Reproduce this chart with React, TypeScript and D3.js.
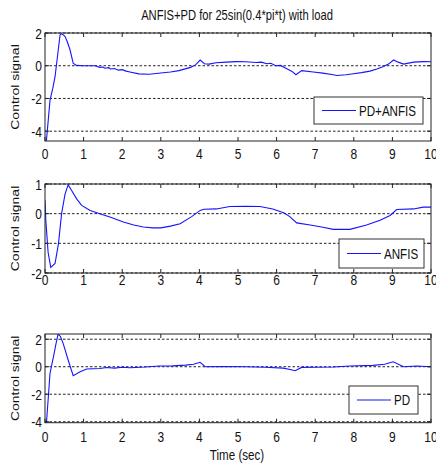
import React from "react";
import * as d3 from "d3";

// ---- data ----
const xTicks = [0, 1, 2, 3, 4, 5, 6, 7, 8, 9, 10];

const tPDANFIS = [0, 0.04, 0.13, 0.2, 0.26, 0.33, 0.39, 0.42, 0.47, 0.52, 0.58, 0.65, 0.73, 0.81, 1.0, 1.3, 1.42, 1.5, 1.55, 1.65, 1.7, 1.8, 1.9, 2.0, 2.1, 2.2, 2.43, 2.7, 3.0, 3.25, 3.47, 3.77, 3.9, 4.02, 4.13, 4.25, 4.43, 4.7, 4.95, 5.2, 5.47, 5.6, 5.75, 5.85, 5.98, 6.1, 6.24, 6.4, 6.5, 6.65, 6.95, 7.2, 7.47, 7.56, 7.8, 7.99, 8.2, 8.42, 8.6, 8.77, 8.9, 9.03, 9.15, 9.29, 9.55, 9.8, 10];
const vPDANFIS = [-4.8, -4.5, -2.1, -1.4, -0.67, 0.7, 1.88, 1.95, 1.9, 1.78, 1.45, 0.96, 0.15, 0.02, 0.0, 0.0, -0.1, -0.08, -0.15, -0.12, -0.2, -0.17, -0.27, -0.24, -0.33, -0.38, -0.5, -0.52, -0.44, -0.38, -0.3, -0.1, 0.05, 0.35, 0.12, 0.1, 0.18, 0.22, 0.25, 0.24, 0.2, 0.22, 0.12, 0.15, 0.0, 0.02, -0.15, -0.35, -0.55, -0.3, -0.38, -0.45, -0.55, -0.6, -0.55, -0.49, -0.42, -0.33, -0.2, -0.05, 0.1, 0.35, 0.22, 0.1, 0.22, 0.25, 0.24];

const tANFIS = [0, 0.02, 0.08, 0.15, 0.2, 0.26, 0.35, 0.43, 0.52, 0.6, 0.69, 0.82, 0.95, 1.17, 1.42, 1.7, 2.03, 2.3, 2.55, 2.8, 3.0, 3.25, 3.5, 3.8, 4.02, 4.12, 4.44, 4.79, 5.2, 5.57, 5.9, 6.2, 6.34, 6.52, 6.87, 7.2, 7.47, 7.9, 8.33, 8.68, 8.94, 9.11, 9.55, 9.8, 10];
const vANFIS = [0.45, -0.2, -1.3, -1.81, -1.75, -1.68, -1.0, 0.0, 0.67, 0.97, 0.78, 0.5, 0.28, 0.11, 0.0, -0.12, -0.28, -0.38, -0.45, -0.48, -0.48, -0.42, -0.34, -0.1, 0.11, 0.15, 0.16, 0.24, 0.25, 0.24, 0.16, 0.02, -0.1, -0.31, -0.38, -0.46, -0.53, -0.53, -0.38, -0.22, -0.06, 0.14, 0.16, 0.22, 0.22];

const tPD = [0, 0.04, 0.13, 0.22, 0.28, 0.34, 0.4, 0.47, 0.6, 0.73, 0.91, 1.08, 1.42, 1.6, 1.8, 2.0, 2.2, 2.6, 2.96, 3.3, 3.64, 3.85, 4.02, 4.15, 4.6, 5.2, 5.7, 6.17, 6.35, 6.48, 6.65, 7.0, 7.47, 7.9, 8.5, 8.8, 9.02, 9.29, 9.63, 10];
const vPD = [-4.6, -4.0, -0.48, 0.73, 1.6, 2.38, 2.2, 1.7, 0.49, -0.65, -0.36, -0.17, -0.13, -0.06, -0.1, -0.04, -0.07, -0.02, 0.05, 0.06, 0.12, 0.18, 0.32, 0.0, 0.02, 0.0, -0.04, -0.1, -0.2, -0.29, -0.05, -0.04, -0.02, 0.05, 0.1, 0.18, 0.36, 0.0, 0.05, 0.0];

const titleText = "ANFIS+PD for 25sin(0.4*pi*t) with load";
const yLabelText = "Control signal";
const xLabelText = "Time (sec)";

const FONT = "'Liberation Sans', Arial, sans-serif";
const SX = 0.8;
const BLUE = "#1414ff";

function T({ x, y, anchor = "start", size = 14, rotate = 0, children }: any) {
  return (
    <text
      transform={`translate(${x},${y}) scale(${SX},1)${rotate ? ` rotate(${rotate})` : ""}`}
      textAnchor={anchor}
      fontFamily={FONT}
      fontSize={size}
      fill="#111"
    >
      {children}
    </text>
  );
}

function Panel({ id, top, bottom, domain, yTicks, t, v, legend, labelBase }: any) {
  const left = 45, right = 431;
  const x = d3.scaleLinear().domain([0, 10]).range([left, right]);
  const y = d3.scaleLinear().domain(domain).range([bottom, top]);
  const line = d3.line<number>().x((_, i) => x(t[i])).y((d) => y(d));
  const tl = 4;
  return (
    <g>
      <defs>
        <clipPath id={id}>
          <rect x={left} y={top} width={right - left} height={bottom - top} />
        </clipPath>
      </defs>
      <rect x={left} y={top} width={right - left} height={bottom - top} fill="#fff" />
      {yTicks.map((tk: number) => (
        <line key={"g" + tk} x1={left} x2={right} y1={y(tk)} y2={y(tk)} stroke="#222" strokeWidth={1} strokeDasharray="2.5,2" />
      ))}
      <path d={line(v) || ""} fill="none" stroke={BLUE} strokeWidth={1.1} clipPath={`url(#${id})`} />
      {xTicks.map((tk) => (
        <g key={"x" + tk}>
          <line x1={x(tk)} x2={x(tk)} y1={bottom} y2={bottom - tl} stroke="#222" />
          <line x1={x(tk)} x2={x(tk)} y1={top} y2={top + tl} stroke="#222" />
          <T x={x(tk)} y={labelBase} anchor="middle" size={15}>{String(tk)}</T>
        </g>
      ))}
      {yTicks.map((tk: number) => (
        <g key={"y" + tk}>
          <line x1={left} x2={left + tl} y1={y(tk)} y2={y(tk)} stroke="#222" />
          <line x1={right} x2={right - tl} y1={y(tk)} y2={y(tk)} stroke="#222" />
          <T x={42} y={y(tk) + 5.5} anchor="end" size={15}>{String(tk)}</T>
        </g>
      ))}
      <rect x={left} y={top} width={right - left} height={bottom - top} fill="none" stroke="#222" strokeWidth={1} />
      <T x={19} y={(top + bottom) / 2} anchor="middle" rotate={-90}>{yLabelText}</T>
      <rect x={legend.x0} y={legend.y0} width={legend.x1 - legend.x0} height={legend.y1 - legend.y0} fill="#fff" stroke="#333" strokeWidth={1} />
      <line x1={legend.x0 + 8} x2={legend.x0 + 42} y1={(legend.y0 + legend.y1) / 2} y2={(legend.y0 + legend.y1) / 2} stroke={BLUE} strokeWidth={1.1} />
      <T x={legend.x0 + 45} y={(legend.y0 + legend.y1) / 2 + 5} size={14.5}>{legend.label}</T>
    </g>
  );
}

export default function App() {
  return (
    <svg width={436} height={468} style={{ position: "absolute", left: 0, top: 0, background: "#fff" }}>
      <rect x={0} y={0} width={436} height={468} fill="#fff" />
      <T x={237} y={20} anchor="middle">{titleText}</T>
      <Panel id="c1" top={33} bottom={141} domain={[-4.6, 2]} yTicks={[-4, -2, 0, 2]} t={tPDANFIS} v={vPDANFIS}
        legend={{ x0: 314, x1: 423, y0: 97, y1: 124, label: "PD+ANFIS" }} labelBase={159} />
      <Panel id="c2" top={184} bottom={273} domain={[-2, 1]} yTicks={[-2, -1, 0, 1]} t={tANFIS} v={vANFIS}
        legend={{ x0: 339, x1: 424, y0: 239, y1: 268, label: "ANFIS" }} labelBase={285} />
      <Panel id="c3" top={334} bottom={422.7} domain={[-4.07, 2.38]} yTicks={[-4, -2, 0, 2]} t={tPD} v={vPD}
        legend={{ x0: 349, x1: 418, y0: 386, y1: 414, label: "PD" }} labelBase={442} />
      <T x={237} y={460} anchor="middle" size={14.5}>{xLabelText}</T>
    </svg>
  );
}
